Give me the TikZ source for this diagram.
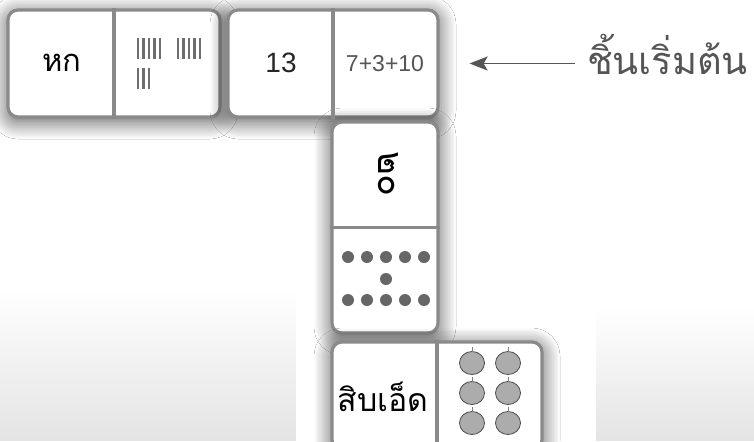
\documentclass[tikz,border=0pt]{standalone}
\usepackage{fontspec}
\setmainfont{Liberation Sans}
\newfontfamily\thai[Script=Thai]{Loma}
\usetikzlibrary{arrows.meta,shadows.blur,fadings}

\definecolor{tileline}{HTML}{8A8A8A}
\definecolor{ink}{HTML}{555555}
\definecolor{dotgray}{HTML}{666666}
\definecolor{wash}{HTML}{E4E4E4}

\tikzset{
  tile/.style={draw=tileline, line width=1.6pt, fill=white, rounded corners=5pt, inner sep=0pt,
    blur shadow={shadow xshift=0pt, shadow yshift=-2pt, shadow blur radius=9pt, shadow blur steps=12, shadow opacity=70}},
  divider/.style={draw=tileline, line width=1.6pt},
  tally/.style={draw=ink!85, line width=1.1pt},
  pip/.style={fill=dotgray},
  apple/.style={fill=gray!65, draw=black!70, line width=0.4pt}
}

\begin{document}
\begin{tikzpicture}[x=0.5pt,y=-0.5pt]
  \useasboundingbox (0,0) rectangle (754,441);
  \fill[white] (0,0) rectangle (754,441);
  % watercolour wash at the bottom
  \fill[wash, path fading=north] (0,290) rectangle (296,441);
  \fill[wash, path fading=north] (596,310) rectangle (754,441);

  % dominoes
  \node[tile, minimum width=106pt, minimum height=53.5pt] (d1) at (114,63.5) {};
  \node[tile, minimum width=105pt, minimum height=53.5pt] (d2) at (333,63.5) {};
  \node[tile, minimum width=53pt, minimum height=105.5pt] (d3) at (385,227.5) {};
  \node[tile, minimum width=105pt, minimum height=54pt] (d4) at (437,396) {};
  \draw[divider] (d1.north) -- (d1.south);
  \draw[divider] (d2.north) -- (d2.south);
  \draw[divider] (d3.west) -- (d3.east);
  \draw[divider] (d4.north) -- (d4.south);

  % faces
  \node (six) at (62,63) {\thai\fontsize{15.5pt}{19pt}\selectfont หก};
  \foreach \i in {0,...,4} {
    \draw[tally] (138+\i*5.5,38) -- ++(0,21);
    \draw[tally] (178+\i*5.5,38) -- ++(0,21);
  }
  \foreach \i in {0,...,2}
    \draw[tally] (138+\i*5.5,68) -- ++(0,21);
  \node (thirteen) at (281,63) {\fontsize{14pt}{17pt}\selectfont\color{black!85}13};
  \node (sum) at (385,64) {\fontsize{11.5pt}{14pt}\selectfont\color{ink}7+3+10};
  \node[rotate=-90] (twenty) at (388,174) {\thai\fontsize{18pt}{21pt}\selectfont ๒๐};
  \foreach \x in {348,367,386,405,424} {
    \fill[pip] (\x,257) circle (6);
    \fill[pip] (\x,300) circle (6);
  }
  \fill[pip] (386,279) circle (6);
  \node (eleven) at (383,397) {\thai\fontsize{16pt}{19pt}\selectfont สิบเอ็ด};
  \foreach \x in {472,508}
    \foreach \y in {363,393,423} {
      \draw[apple] (\x,\y) ellipse (12.5 and 11.5);
      \draw[black!50, line width=0.3pt] (\x,\y-11) -- (\x,\y-16);
    }

  % label
  \node[anchor=west, text=ink] (start) at (580,54) {\thai\fontsize{19pt}{23pt}\selectfont ชิ้นเริ่มต้น};
  \coordinate (tail) at (575,63.5);
  \draw[ink, line width=0.9pt, -{Stealth[length=9pt,width=7pt,inset=2pt]}, shorten >=15pt]
    (tail) -- (d2.east);
\end{tikzpicture}
\end{document}
